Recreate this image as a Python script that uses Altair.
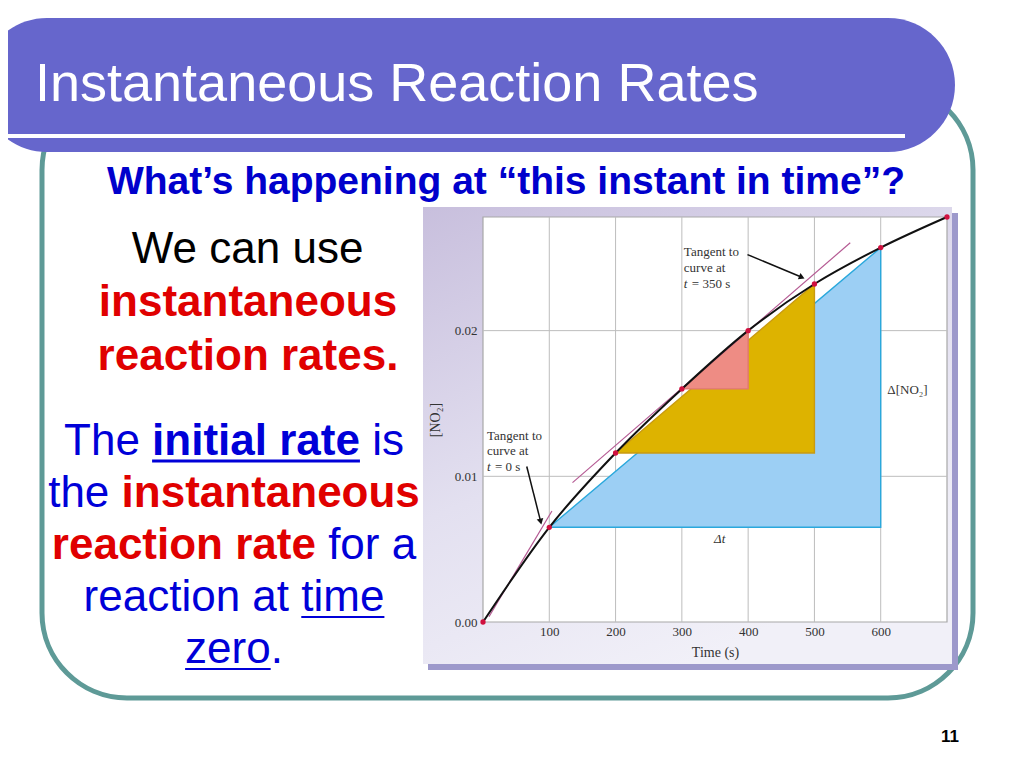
import altair as alt
import pandas as pd

# ---------------- data ----------------
time_s = [0, 100, 200, 300, 400, 500, 600, 700]
no2 = [0.0, 0.0065, 0.0116, 0.0160, 0.0200, 0.0232, 0.0257, 0.0278]

x_ticks = [100, 200, 300, 400, 500, 600]
y_ticks = [0.00, 0.01, 0.02]
y_grid = [0.01, 0.02]

# right-triangles drawn between two curve points (indices into the arrays)
tri_blue = (1, 6)
tri_gold = (2, 5)
tri_pink = (3, 4)

tangent0_t = [9, 104]
tangent0_v = [0.00036, 0.00762]
tangent350_t = [135, 554]
tangent350_v = [0.00957, 0.02603]

ann350_lines = ["Tangent to", "curve at"]
ann350_t = 303
ann350_v = [0.02515, 0.02405, 0.02296]
ann350_last = ["t", "= 350 s"]
ann0_lines = ["Tangent to", "curve at"]
ann0_t = 6
ann0_v = [0.01251, 0.01148, 0.01038]
ann0_last = ["t", "= 0 s"]
arrow350_t = [399, 481]
arrow350_v = [0.02522, 0.02366]
arrow0_t = [66, 87]
arrow0_v = [0.01067, 0.00689]
dconc_label = "Δ[NO₂]"
dconc_t, dconc_v = 610, 0.01567
dt_label = "Δt"
dt_t, dt_v = 357, 0.00543

title_text = "Instantaneous Reaction Rates"
subtitle_text = "What’s happening at “this instant in time”?"
page_number = "11"
left_lines = [
    [("We can use", "k", False, False)],
    [("instantaneous", "r", True, False)],
    [("reaction rates.", "r", True, False)],
    [("The ", "b", False, False), ("initial rate", "b", True, True), (" is", "b", False, False)],
    [("the ", "b", False, False), ("instantaneous", "r", True, False)],
    [("reaction rate", "r", True, False), (" for a", "b", False, False)],
    [("reaction at ", "b", False, False), ("time", "b", False, True)],
    [("zero", "b", False, True), (".", "b", False, False)],
]

# ---------------- layout (page pixels) ----------------
PLOT_X0, PLOT_Y0 = 483, 217
W, H = 464, 405
X_MAX, Y_MAX = 700, 0.0278
SANS = "Liberation Sans"
SERIF = "Liberation Serif"
COLORS = {"k": "#000000", "r": "#E00000", "b": "#0000D8"}
LEFT_CENTERS = [248, 248, 248, 234, 234, 234, 234, 234]
LEFT_BASELINES = [263, 316, 370, 455, 507, 559, 611, 663]
LEFT_SIZE = 44

AR = {' ': 278, '.': 278, 'T': 611, 'W': 944, 'a': 556, 'c': 500, 'e': 556, 'f': 278,
      'h': 556, 'i': 222, 'l': 222, 'm': 833, 'n': 556, 'o': 556, 'r': 333, 's': 500,
      't': 278, 'u': 556, 'z': 500}
ARB = {' ': 278, '.': 278, 'a': 556, 'c': 556, 'e': 556, 'i': 278, 'l': 278, 'n': 611,
       'o': 611, 'r': 389, 's': 556, 't': 333, 'u': 611}


def tw(s, bold, size):
    tab = ARB if bold else AR
    return sum(tab.get(ch, 556) for ch in s) / 1000.0 * size


def px(X):
    return X - PLOT_X0


def py(Y):
    return Y - PLOT_Y0


def one(**cols):
    return pd.DataFrame({k: [v] for k, v in cols.items()})


def text_px(s, X, Y, size, color, font=SANS, weight="normal", align="left", style="normal"):
    return alt.Chart(one(label=s)).mark_text(
        align=align, baseline="alphabetic", font=font, fontSize=size,
        fontWeight=weight, fontStyle=style, color=color
    ).encode(text="label:N", x=alt.value(px(X)), y=alt.value(py(Y)))


def rect_px(X0, Y0, X1, Y1, **mark):
    return alt.Chart(one(o=0)).mark_rect(**mark).encode(
        x=alt.value(px(X0)), x2=alt.value(px(X1)), y=alt.value(py(Y0)), y2=alt.value(py(Y1)))


def hrule_px(X0, X1, Y, color, width):
    return alt.Chart(one(o=0)).mark_rule(color=color, strokeWidth=width).encode(
        x=alt.value(px(X0)), x2=alt.value(px(X1)), y=alt.value(py(Y)))


layers = []

# ---- slide decorations ----
layers.append(rect_px(42, 85, 973, 698, fill="transparent", stroke="#5E9A97",
                      strokeWidth=5, cornerRadius=85))
layers.append(rect_px(-20, 18, 955, 152, fill="#6666CC", cornerRadius=67))
layers.append(hrule_px(-20, 905, 136, "#FFFFFF", 4))
layers.append(text_px(title_text, 35, 101, 54, "#FFFFFF"))
layers.append(text_px(subtitle_text, 506, 194, 39, "#0000CC", weight="bold", align="center"))
layers.append(text_px(page_number, 950, 742, 17, "#000000", weight="bold", align="center"))

for segs, cx, base in zip(left_lines, LEFT_CENTERS, LEFT_BASELINES):
    total = sum(tw(s, b, LEFT_SIZE) for s, _, b, _ in segs)
    x = cx - total / 2
    for s, c, b, u in segs:
        lead = len(s) - len(s.lstrip(" "))
        xs0 = x + tw(" " * lead, b, LEFT_SIZE)
        core = s.strip(" ")
        layers.append(text_px(core, xs0, base, LEFT_SIZE, COLORS[c],
                              weight="bold" if b else "normal"))
        if u:
            layers.append(hrule_px(xs0, xs0 + tw(core, b, LEFT_SIZE), base + 6,
                                   COLORS[c], 3 if b else 2.2))
        x += tw(s, b, LEFT_SIZE)

# ---- figure panel ----
layers.append(rect_px(428, 213, 958, 670, fill="#9D99CB"))
grad = alt.LinearGradient(
    gradient="linear",
    stops=[alt.GradientStop(color="#C8BFDD", offset=0),
           alt.GradientStop(color="#E3E0F0", offset=0.55),
           alt.GradientStop(color="#F1F0F8", offset=1)],
    x1=0, y1=0, x2=0.5, y2=1)
layers.append(rect_px(423, 207, 952, 664, fill=grad))

# ---- data-driven plot ----
xs = alt.Scale(domain=[0, X_MAX], nice=False, zero=False)
ys = alt.Scale(domain=[0, Y_MAX], nice=False, zero=False)

xaxis = alt.Axis(values=x_ticks, title="Time (s)", grid=False, domain=False, ticks=False,
                 labelFont=SERIF, labelFontSize=13, labelColor="#333333", labelPadding=3,
                 titleFont=SERIF, titleFontSize=14, titleFontWeight="normal", titleColor="#333333",
                 titleX=W / 2, titleY=30, titleBaseline="middle", zindex=1)
yaxis = alt.Axis(values=y_ticks, format=".2f", title="[NO₂]", grid=False, domain=False, ticks=False,
                 labelFont=SERIF, labelFontSize=13, labelColor="#333333", labelPadding=6,
                 titleFont=SERIF, titleFontSize=14, titleFontWeight="normal", titleColor="#333333",
                 titleX=-48, titleY=H / 2, titleAngle=270, titleAlign="center",
                 titleBaseline="middle", zindex=1)


def X(field="t"):
    return alt.X(f"{field}:Q", scale=xs, axis=xaxis)


def Y(field="v"):
    return alt.Y(f"{field}:Q", scale=ys, axis=yaxis)


# plot background + frame
plot_df = pd.DataFrame({"t": [0], "t2": [X_MAX], "v": [0], "v2": [Y_MAX]})
layers.append(alt.Chart(plot_df).mark_rect(fill="#FFFFFF", stroke="#A8A8A8", strokeWidth=1.2).encode(
    x=X(), x2="t2:Q", y=Y(), y2="v2:Q"))

# grid lines
vg = pd.DataFrame({"t": x_ticks, "v": [0] * len(x_ticks), "v2": [Y_MAX] * len(x_ticks)})
layers.append(alt.Chart(vg).mark_rule(color="#BDBDBD", strokeWidth=1).encode(
    x=X(), y=Y(), y2="v2:Q"))
hg = pd.DataFrame({"t": [0] * len(y_grid), "t2": [X_MAX] * len(y_grid), "v": y_grid})
layers.append(alt.Chart(hg).mark_rule(color="#BDBDBD", strokeWidth=1).encode(
    x=X(), x2="t2:Q", y=Y()))


def triangle(idx, fill, edge):
    i, j = idx
    area = pd.DataFrame({"t": [time_s[i], time_s[j]], "v": [no2[i], no2[j]],
                         "v2": [no2[i], no2[i]]})
    outline = pd.DataFrame({"t": [time_s[i], time_s[j], time_s[j], time_s[i]],
                            "v": [no2[i], no2[i], no2[j], no2[i]], "k": [0, 1, 2, 3]})
    a = alt.Chart(area).mark_area(color=fill, opacity=1).encode(x=X(), y=Y(), y2="v2:Q")
    o = alt.Chart(outline).mark_line(color=edge, strokeWidth=1.4).encode(
        x=X(), y=Y(), order="k:Q")
    return [a, o]


layers += triangle(tri_blue, "#9CCFF4", "#2AA8DC")
layers += triangle(tri_gold, "#DDB300", "#C99A10")
layers += triangle(tri_pink, "#EE8C84", "#E07870")

# tangents
tan = pd.DataFrame({"t": tangent0_t + tangent350_t, "v": tangent0_v + tangent350_v,
                    "id": ["a", "a", "b", "b"]})
layers.append(alt.Chart(tan).mark_line(color="#B55A93", strokeWidth=1.2).encode(
    x=X(), y=Y(), detail="id:N"))

# curve + points
curve = pd.DataFrame({"t": time_s, "v": no2})
layers.append(alt.Chart(curve).mark_line(color="#111111", strokeWidth=2,
                                         interpolate="monotone").encode(x=X(), y=Y()))
layers.append(alt.Chart(curve).mark_circle(color="#D0103F", size=28, opacity=1).encode(
    x=X(), y=Y()))

# arrows
for tt, vv, ang in [(arrow350_t, arrow350_v, 23), (arrow0_t, arrow0_v, 76)]:
    d = pd.DataFrame({"t": tt, "v": vv})
    layers.append(alt.Chart(d).mark_line(color="#111111", strokeWidth=1.5).encode(x=X(), y=Y()))
    layers.append(alt.Chart(d.tail(1)).mark_point(shape="triangle-right", filled=True,
                                                   size=45, color="#111111", opacity=1,
                                                   angle=ang).encode(x=X(), y=Y()))


# annotation text
def ann(lines, last, t0, vs):
    out = []
    d = pd.DataFrame({"t": [t0] * len(lines), "v": vs[:len(lines)], "label": lines})
    out.append(alt.Chart(d).mark_text(align="left", baseline="alphabetic", font=SERIF,
                                      fontSize=13, color="#333333").encode(
        x=X(), y=Y(), text="label:N"))
    d2 = pd.DataFrame({"t": [t0], "v": [vs[-1]], "label": [last[0]]})
    out.append(alt.Chart(d2).mark_text(align="left", baseline="alphabetic", font=SERIF,
                                       fontSize=13, fontStyle="italic", color="#333333").encode(
        x=X(), y=Y(), text="label:N"))
    d3 = pd.DataFrame({"t": [t0], "v": [vs[-1]], "label": [last[1]]})
    out.append(alt.Chart(d3).mark_text(align="left", baseline="alphabetic", font=SERIF,
                                       fontSize=13, dx=8, color="#333333").encode(
        x=X(), y=Y(), text="label:N"))
    return out


layers += ann(ann350_lines, ann350_last, ann350_t, ann350_v)
layers += ann(ann0_lines, ann0_last, ann0_t, ann0_v)

dl = pd.DataFrame({"t": [dconc_t], "v": [dconc_v], "label": [dconc_label]})
layers.append(alt.Chart(dl).mark_text(align="left", baseline="alphabetic", font=SERIF,
                                      fontSize=13, color="#333333").encode(
    x=X(), y=Y(), text="label:N"))
dtl = pd.DataFrame({"t": [dt_t], "v": [dt_v], "label": [dt_label]})
layers.append(alt.Chart(dtl).mark_text(align="center", baseline="alphabetic", font=SERIF,
                                       fontSize=13, fontStyle="italic", color="#333333").encode(
    x=X(), y=Y(), text="label:N"))

chart = alt.layer(*layers).properties(
    width=W, height=H,
    padding={"left": PLOT_X0 - 8, "top": PLOT_Y0 - 8,
             "right": 1008 - (PLOT_X0 - 8) - W, "bottom": 752 - (PLOT_Y0 - 8) - H},
    autosize=alt.AutoSizeParams(type="none"),
).configure_view(strokeOpacity=0)

chart.save("out.html", embed_options={"renderer": "svg", "actions": False})
